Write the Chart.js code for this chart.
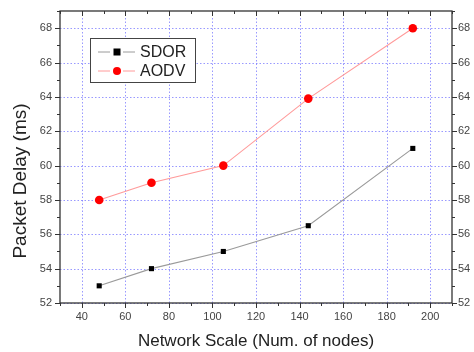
<!DOCTYPE html>
<html><head><meta charset="utf-8">
<script src="https://cdn.jsdelivr.net/npm/chart.js@4/dist/chart.umd.min.js"></script>
<style>html,body{margin:0;padding:0;background:#fff;}#wrap{width:474px;height:352px;}</style>
</head><body><div id="wrap"><canvas id="c" width="474" height="352"></canvas></div>
<script>
const nodes = [48, 72, 105, 144, 192];
const sdor = [53, 54, 55, 56.5, 61];
const aodv = [58, 59, 60, 63.9, 68];
const xTicks = [40, 60, 80, 100, 120, 140, 160, 180, 200];
const yTicks = [52, 54, 56, 58, 60, 62, 64, 66, 68];
const seriesNames = ['SDOR', 'AODV'];
const xTitle = 'Network Scale (Num. of nodes)';
const yTitle = 'Packet Delay (ms)';

const FONT = '"Liberation Sans", Arial, sans-serif';
const AX = '#333';

const gridPlugin = {
  id: 'gridBehind',
  beforeDatasetsDraw(chart) {
    const ctx = chart.ctx, a = chart.chartArea;
    const xs = chart.scales.x, ys = chart.scales.y;
    ctx.save();
    ctx.strokeStyle = 'rgba(110,110,255,0.7)';
    ctx.lineWidth = 1;
    ctx.setLineDash([1.5, 2]);
    ctx.beginPath();
    xTicks.forEach(v => {
      const p = Math.round(xs.getPixelForValue(v)) + 0.5;
      ctx.moveTo(p, a.top); ctx.lineTo(p, a.bottom);
    });
    yTicks.forEach(v => {
      const p = Math.round(ys.getPixelForValue(v)) + 0.5;
      ctx.moveTo(a.left, p); ctx.lineTo(a.right, p);
    });
    ctx.stroke();
    ctx.restore();
  }
};

const axesPlugin = {
  id: 'axesAndLegend',
  afterDraw(chart) {
    const ctx = chart.ctx, a = chart.chartArea;
    const xs = chart.scales.x, ys = chart.scales.y;
    ctx.save();
    ctx.strokeStyle = AX; ctx.lineWidth = 1.3;
    ctx.strokeRect(a.left, a.top, a.right - a.left, a.bottom - a.top);
    ctx.lineWidth = 1;
    ctx.beginPath();
    for (let v = xs.min; v <= xs.max; v += 10) {
      const p = Math.round(xs.getPixelForValue(v)) + 0.5;
      const L = (v % 20 === 0) ? 5 : 3;
      ctx.moveTo(p, a.bottom); ctx.lineTo(p, a.bottom + L);
      ctx.moveTo(p, a.top); ctx.lineTo(p, a.top + L);
    }
    for (let v = ys.min; v <= ys.max; v += 1) {
      const p = Math.round(ys.getPixelForValue(v)) + 0.5;
      const L = (v % 2 === 0) ? 5 : 3;
      ctx.moveTo(a.left, p); ctx.lineTo(a.left - L, p);
      ctx.moveTo(a.right, p); ctx.lineTo(a.right + L, p);
    }
    ctx.stroke();

    // tick labels
    ctx.fillStyle = '#444';
    ctx.font = '11px ' + FONT;
    ctx.textBaseline = 'middle';
    ctx.textAlign = 'center';
    xTicks.forEach(v => ctx.fillText(String(v), xs.getPixelForValue(v), a.bottom + 14));
    ctx.textAlign = 'right';
    yTicks.forEach(v => ctx.fillText(String(v), a.left - 8, ys.getPixelForValue(v)));
    ctx.textAlign = 'left';
    yTicks.forEach(v => ctx.fillText(String(v), a.right + 6, ys.getPixelForValue(v)));

    // titles
    ctx.fillStyle = '#222';
    ctx.font = '17px ' + FONT;
    ctx.textAlign = 'center';
    ctx.fillText(xTitle, (a.left + a.right) / 2, 341);
    ctx.save();
    ctx.translate(21, 181);
    ctx.rotate(-Math.PI / 2);
    ctx.font = '19px ' + FONT;
    ctx.fillText(yTitle, 0, 0);
    ctx.restore();

    // legend
    const bx = 90, by = 38, bw = 105, bh = 44;
    ctx.fillStyle = '#fff';
    ctx.fillRect(bx, by, bw, bh);
    ctx.strokeStyle = '#444'; ctx.lineWidth = 1;
    ctx.strokeRect(bx + 0.5, by + 0.5, bw, bh);
    chart.data.datasets.forEach((ds, i) => {
      const y = by + 14 + i * 19;
      ctx.strokeStyle = ds.borderColor; ctx.lineWidth = 1;
      ctx.beginPath(); ctx.moveTo(98, y); ctx.lineTo(110, y); ctx.moveTo(123, y); ctx.lineTo(135, y); ctx.stroke();
      ctx.fillStyle = ds.pointBackgroundColor;
      if (ds.pointStyle === 'rect') { ctx.fillRect(113.5, y - 3.5, 7, 7); }
      else { ctx.beginPath(); ctx.arc(117, y, 4, 0, Math.PI * 2); ctx.fill(); }
      ctx.fillStyle = '#222'; ctx.font = '16px ' + FONT;
      ctx.textBaseline = 'middle'; ctx.textAlign = 'left';
      ctx.fillText(ds.label, 140, y + 1);
    });
    ctx.restore();
  }
};

new Chart(document.getElementById('c'), {
  type: 'line',
  data: {
    datasets: [
      { label: seriesNames[0], data: nodes.map((x, i) => ({ x, y: sdor[i] })),
        borderColor: '#9a9a9a', borderWidth: 1.1, pointStyle: 'rect', pointRadius: 3.6,
        pointBackgroundColor: '#000', pointBorderColor: '#000', pointBorderWidth: 0 },
      { label: seriesNames[1], data: nodes.map((x, i) => ({ x, y: aodv[i] })),
        borderColor: '#ff9a9a', borderWidth: 1.1, pointStyle: 'circle', pointRadius: 4.3,
        pointBackgroundColor: '#ff0000', pointBorderColor: '#ff0000', pointBorderWidth: 0 }
    ]
  },
  options: {
    responsive: false, animation: false, devicePixelRatio: 1,
    layout: { padding: { left: 60, right: 22, top: 11, bottom: 49 } },
    plugins: { legend: { display: false }, tooltip: { enabled: false } },
    scales: {
      x: { type: 'linear', display: false, min: 30, max: 210 },
      y: { type: 'linear', display: false, min: 52, max: 69 }
    }
  },
  plugins: [gridPlugin, axesPlugin]
});
</script></body></html>
